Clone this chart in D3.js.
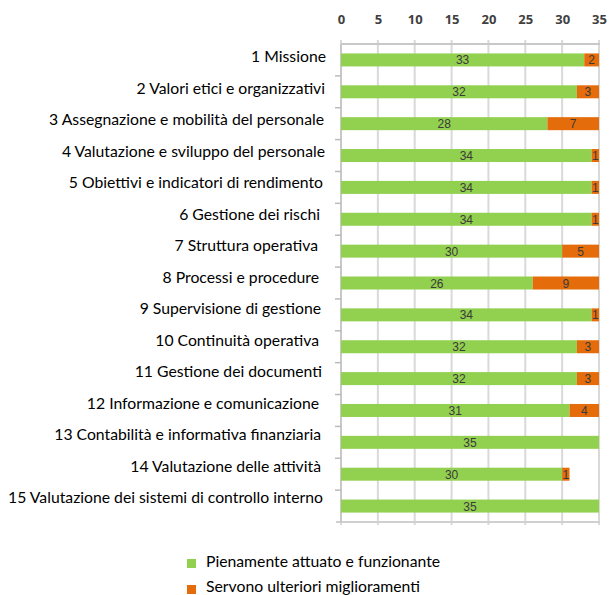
<!DOCTYPE html>
<html><head><meta charset="utf-8">
<script src="https://cdn.jsdelivr.net/npm/d3@7"></script>
<style>body{margin:0;background:#fff;} svg{display:block;font-family:"Open Sans",sans-serif;}</style>
</head><body>
<script>
const categories = ["1 Missione","2 Valori etici e organizzativi","3 Assegnazione e mobilità del personale","4 Valutazione e sviluppo del personale","5 Obiettivi e indicatori di rendimento","6 Gestione dei rischi","7 Struttura operativa","8 Processi e procedure","9 Supervisione di gestione","10 Continuità operativa","11 Gestione dei documenti","12 Informazione e comunicazione","13 Contabilità e informativa finanziaria","14 Valutazione delle attività","15 Valutazione dei sistemi di controllo interno"];
const labelShift = [0,1,2,1,3,6,8,7,5,7,4,7,5,5,3];
const fullyImplemented = [33,32,28,34,34,34,30,26,34,32,32,31,35,30,35];
const needsImprovement = [2,3,7,1,1,1,5,9,1,3,3,4,0,1,0];
const seriesNames = ["Pienamente attuato e funzionante","Servono ulteriori miglioramenti"];
const colors = ["#92D050","#E46C0A"];
const xTicks = [0,5,10,15,20,25,30,35];

const W=611,H=595;
const labelFont = "Lato, sans-serif";
const svg=d3.select("body").append("svg").attr("width",W).attr("height",H);
const x=d3.scaleLinear().domain([0,35]).range([341,599]);
const y=d3.scaleBand().domain(categories).range([44,522]).paddingInner(0.6).paddingOuter(0.3);
const yl=d3.scalePoint().domain(categories).range([57,498]);

// gridlines
svg.append("g").selectAll("line").data(xTicks).join("line")
 .attr("x1",d=>x(d)).attr("x2",d=>x(d)).attr("y1",40).attr("y2",525)
 .attr("stroke","#d9d9d9").attr("stroke-width",2);
svg.append("line").attr("x1",341).attr("x2",600).attr("y1",44).attr("y2",44).attr("stroke","#c8c8c8").attr("stroke-width",2);
svg.append("line").attr("x1",336).attr("x2",600).attr("y1",522).attr("y2",522).attr("stroke","#d0d0d0").attr("stroke-width",2);
svg.append("line").attr("x1",341).attr("x2",341).attr("y1",44).attr("y2",522).attr("stroke","#c8c8c8").attr("stroke-width",2);
svg.append("g").selectAll("line").data(d3.range(1,15)).join("line")
 .attr("x1",335).attr("x2",341).attr("y1",i=>44+i*478/15).attr("y2",i=>44+i*478/15)
 .attr("stroke","#bbb").attr("stroke-width",1.5);
const ax=svg.append("g").attr("transform","translate(0,44)").call(d3.axisTop(x).tickValues(xTicks).tickSize(0).tickPadding(20));
ax.select(".domain").remove();
ax.selectAll("text").attr("font-size",13).attr("font-weight","bold").attr("fill","#404040").attr("font-family","Open Sans, sans-serif");

const rows=categories.map((c,i)=>({c,a:fullyImplemented[i],b:needsImprovement[i]}));
const bh=13;
const g=svg.append("g");
g.selectAll("rect.a").data(rows).join("rect").attr("class","a")
 .attr("x",x(0)).attr("y",d=>y(d.c)+y.bandwidth()/2-bh/2).attr("width",d=>x(d.a)-x(0)).attr("height",bh).attr("fill",colors[0]);
g.selectAll("rect.b").data(rows.filter(d=>d.b>0)).join("rect").attr("class","b")
 .attr("x",d=>x(d.a)).attr("y",d=>y(d.c)+y.bandwidth()/2-bh/2).attr("width",d=>x(d.a+d.b)-x(d.a)).attr("height",bh).attr("fill",colors[1]);
g.selectAll("text.a").data(rows).join("text").attr("class","a")
 .attr("x",d=>x(d.a/2)).attr("y",d=>y(d.c)+y.bandwidth()/2+4.5).attr("text-anchor","middle")
 .attr("font-family","Liberation Sans, Arial, sans-serif").attr("font-size",12).attr("fill","#3a3a3a").text(d=>d.a);
g.selectAll("text.b").data(rows.filter(d=>d.b>0)).join("text").attr("class","b")
 .attr("x",d=>x(d.a+d.b/2)).attr("y",d=>y(d.c)+y.bandwidth()/2+4.5).attr("text-anchor","middle")
 .attr("font-family","Liberation Sans, Arial, sans-serif").attr("font-size",12).attr("fill","#3a3a3a").text(d=>d.b);

// category labels, size fitted so the longest label spans ~315px
const labs=svg.append("g").selectAll("text").data(categories).join("text")
 .attr("x",(d,i)=>326-labelShift[i]).attr("y",d=>yl(d)+5).attr("text-anchor","end")
 .attr("font-family",labelFont).attr("font-size",14).attr("fill","#000").text(d=>d);
const longest=labs.filter((d,i)=>i===14).node().getComputedTextLength();
const fs=14*315/longest;
labs.attr("font-size",fs);

// legend
const lg=svg.append("g");
seriesNames.forEach((s,i)=>{
 lg.append("rect").attr("x",187).attr("y",559+i*26).attr("width",9).attr("height",9).attr("fill",colors[i]);
 lg.append("text").attr("x",206).attr("y",567+i*25).attr("font-family",labelFont).attr("font-size",fs).attr("fill","#000").text(s);
});
</script>
</body></html>
